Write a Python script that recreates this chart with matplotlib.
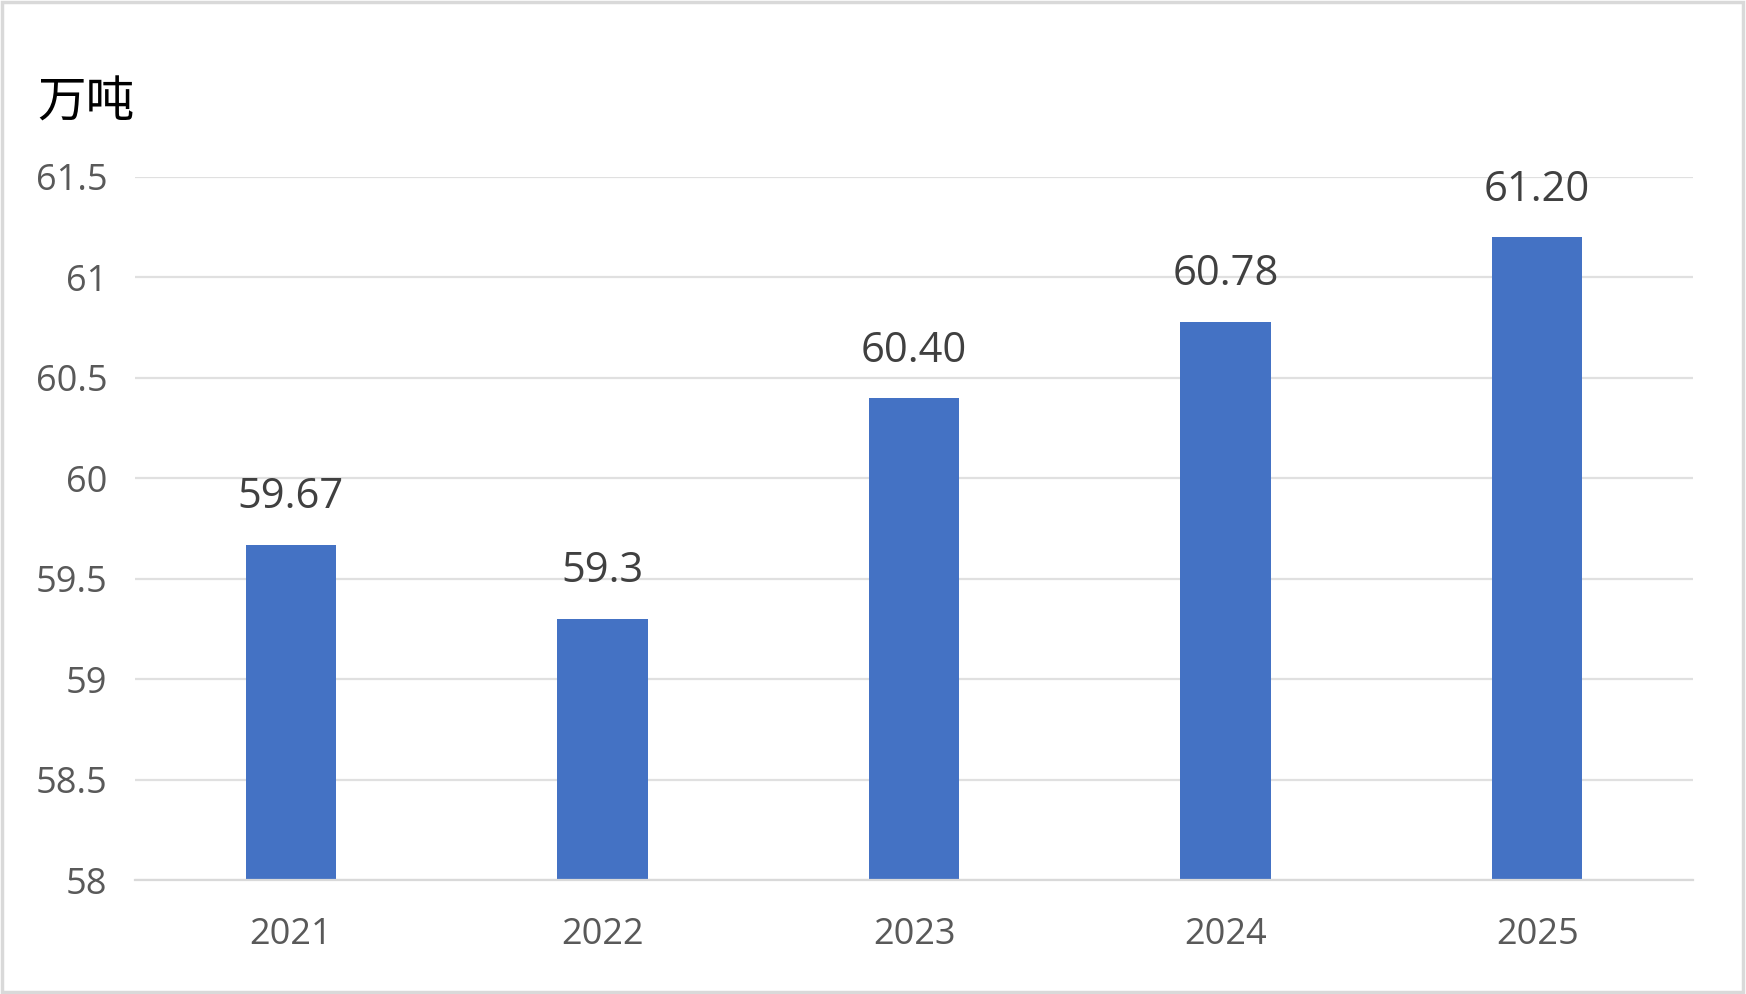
import matplotlib
matplotlib.use('Agg')
import matplotlib.pyplot as plt
from matplotlib.patches import Rectangle

years = ['2021', '2022', '2023', '2024', '2025']
values = [59.67, 59.3, 60.40, 60.78, 61.20]
labels = ['59.67', '59.3', '60.40', '60.78', '61.20']
yticks = [58, 58.5, 59, 59.5, 60, 60.5, 61, 61.5]
ytick_labels = ['58', '58.5', '59', '59.5', '60', '60.5', '61', '61.5']

plt.rcParams['font.family'] = ['Open Sans', 'Noto Sans CJK SC', 'DejaVu Sans']

fig = plt.figure(figsize=(17.46, 9.94), dpi=100)
W, H = 1746, 994
ax = fig.add_axes([135 / W, 1 - 880 / H, (1693 - 135) / W, (880 - 177) / H])

x = range(len(years))
ax.bar(x, values, width=0.29, color='#4472C4', zorder=3)
ax.set_xlim(-0.5, len(years) - 0.5)
ax.set_ylim(58, 61.5)

for xi, v, lab in zip(x, values, labels):
    ax.annotate(lab, (xi, v), xytext=(0, 19), textcoords='offset points',
                ha='center', va='bottom', fontsize=30, color='#404040')

ax.set_xticks(list(x))
ax.set_xticklabels(years)
ax.set_yticks(yticks)
ax.set_yticklabels(ytick_labels)
ax.tick_params(axis='both', length=0, labelsize=26, labelcolor='#595959')
ax.tick_params(axis='x', pad=27)
ax.tick_params(axis='y', pad=20)

ax.grid(axis='y', color='#E0E0E0', linewidth=1.6, zorder=0)
for s in ['top', 'left', 'right']:
    ax.spines[s].set_visible(False)
ax.spines['bottom'].set_color('#D9D9D9')
ax.spines['bottom'].set_linewidth(1.6)
ax.spines['bottom'].set_zorder(4)

fig.text(37 / W, 1 - 117 / H, '万吨', fontsize=35, color='#000000',
         family=['Noto Sans CJK SC'], va='baseline', ha='left')

fig.patches.append(Rectangle((0.001, 0.002), 0.997, 0.996, transform=fig.transFigure,
                             fill=False, edgecolor='#D9D9D9', linewidth=2.5))

fig.savefig('out.png', dpi=100)
